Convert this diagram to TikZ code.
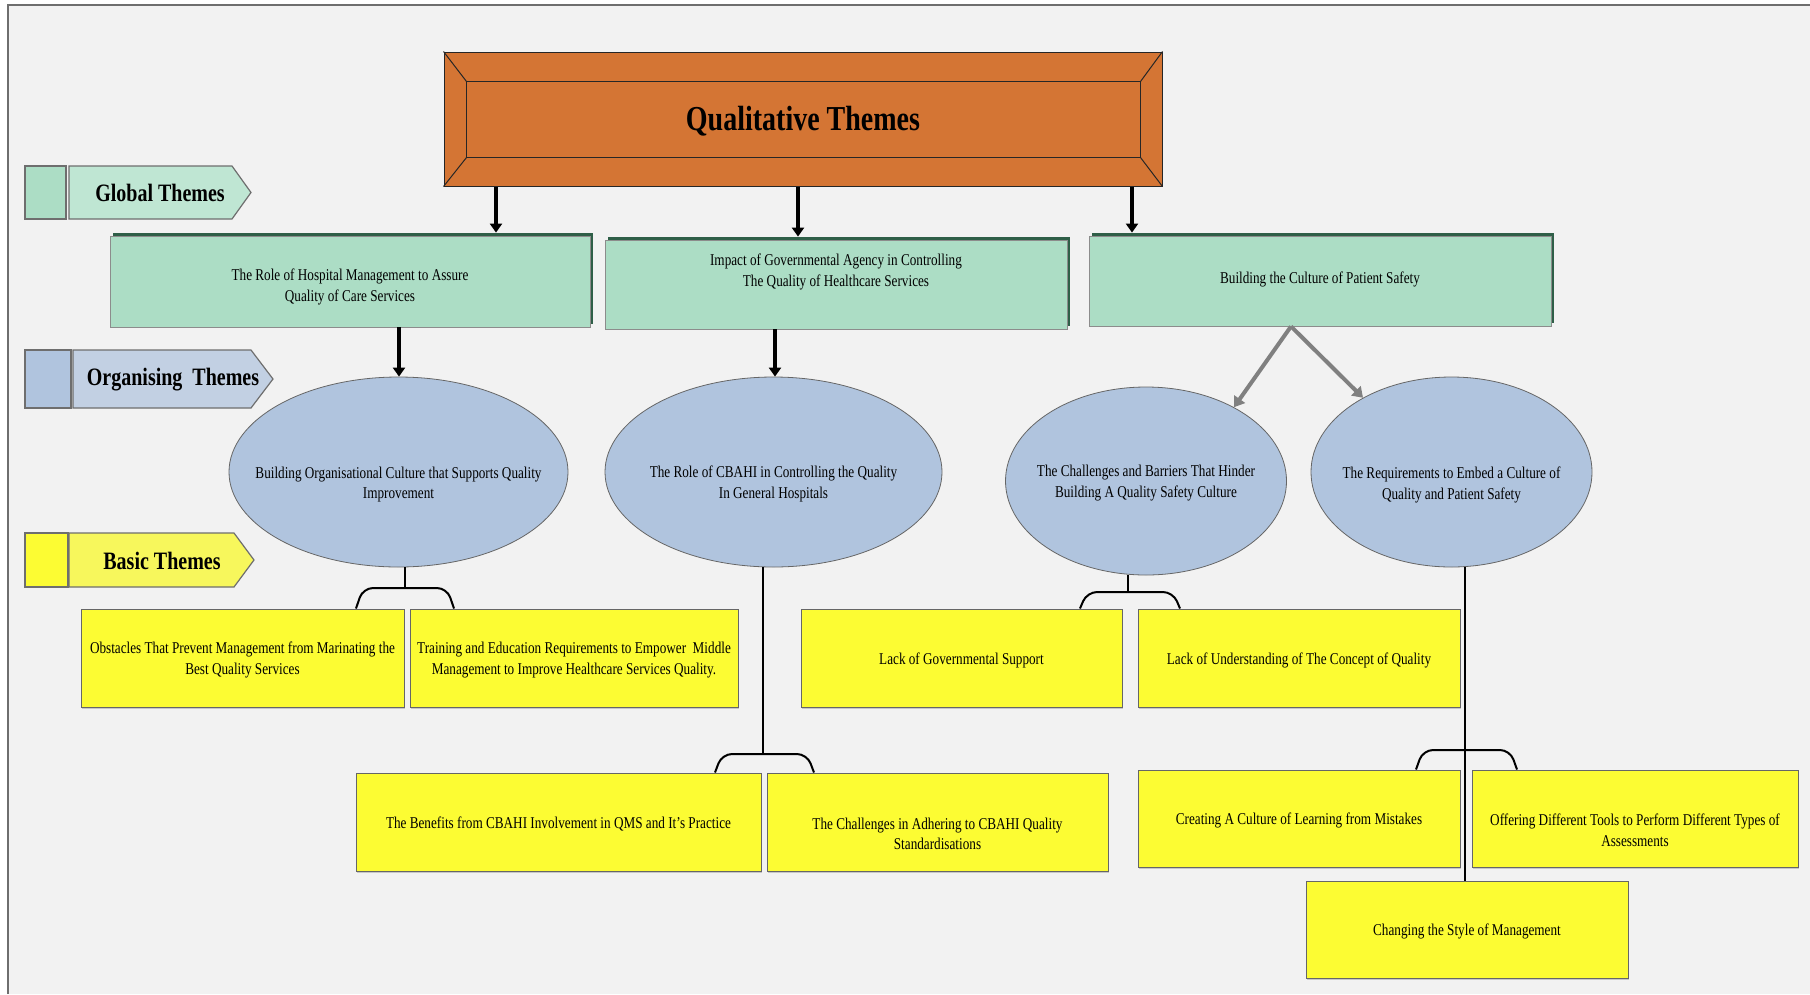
\documentclass[tikz,border=0pt]{standalone}
\usepackage{fontspec}
\setmainfont{Liberation Serif}[FakeStretch=0.8]
\usetikzlibrary{arrows.meta,shapes.geometric,shadows}

\definecolor{pagebg}{HTML}{F2F2F2}
\definecolor{frameline}{HTML}{6E6E6E}
\definecolor{rootfill}{HTML}{D47534}
\definecolor{mintfill}{HTML}{ACDDC5}
\definecolor{mintpale}{HTML}{BFE6D3}
\definecolor{mintedge}{HTML}{2F5F48}
\definecolor{steelfill}{HTML}{B0C4DE}
\definecolor{steelpale}{HTML}{C2D0E3}
\definecolor{yellowfill}{HTML}{FCFC33}
\definecolor{yellowpale}{HTML}{F7F75C}
\definecolor{linkgray}{HTML}{808080}

\tikzset{
  body/.style={font=\fontsize{16.5}{20.5}\selectfont, align=center, text=black},
  tagtext/.style={font=\bfseries\fontsize{25}{30}\selectfont, text=black},
  tagshape/.style={draw=frameline, line width=1.2pt},
  rootbox/.style={draw=black!85, fill=rootfill, line width=1pt, inner sep=0pt},
  globalbox/.style={draw=black!45, fill=mintfill, line width=0.8pt, inner sep=0pt,
    general shadow={fill=mintedge, shadow xshift=3pt, shadow yshift=3pt}, body},
  orgellipse/.style={ellipse, draw=black!60, fill=steelfill, line width=0.8pt,
    inner sep=0pt, body},
  basicbox/.style={draw=black!60, fill=yellowfill, line width=1pt, inner sep=0pt,
    general shadow={fill=black!22, shadow xshift=1pt, shadow yshift=-2pt}, body},
  boxtext/.style={body, yshift=#1},
  downarrow/.style={line width=3.5pt, -{Triangle[width=12pt,length=9pt]}},
  splitarrow/.style={draw=linkgray, line width=4pt, -{Triangle[width=13pt,length=10pt]}},
  stem/.style={line width=1.5pt},
  fork/.style={line width=2pt, rounded corners=10pt},
}

\begin{document}
\begin{tikzpicture}[x=1pt,y=-1pt]
\useasboundingbox (0,0) rectangle (1810,994);
\fill[white] (0,0) rectangle (1810,994);
\fill[pagebg] (8,5) rectangle (1810,994);
\draw[frameline, line width=1.2pt] (8,994) -- (8,5) -- (1810,5);

% ---- level legend tags ----
\filldraw[tagshape, fill=mintfill] (25,166) rectangle (66,219);
\filldraw[tagshape, fill=mintpale] (69,166) -- (232,166) -- (251,192.5) -- (232,219) -- (69,219) -- cycle;
\node[tagtext] (tagG) at (160,193) {Global Themes};

\filldraw[tagshape, fill=steelfill] (25,350) rectangle (71,408);
\filldraw[tagshape, fill=steelpale] (73,350) -- (251,350) -- (273,379) -- (251,408) -- (73,408) -- cycle;
\node[tagtext] (tagO) at (173,380) {Organising\ \ Themes};

\filldraw[tagshape, fill=yellowfill] (25,533) rectangle (68,587);
\filldraw[tagshape, fill=yellowpale] (69,533) -- (234,533) -- (254,560) -- (234,587) -- (69,587) -- cycle;
\node[tagtext] (tagB) at (162,561) {Basic Themes};

% ---- root ----
\node[rootbox, minimum width=718pt, minimum height=134pt,
  label={[font=\bfseries\fontsize{35}{40}\selectfont, yshift=-2.5pt]center:Qualitative Themes}]
  (top) at (803,119) {};
\coordinate (inNW) at ([shift={(23pt,-30pt)}]top.north west);
\coordinate (inNE) at ([shift={(-22pt,-30pt)}]top.north east);
\coordinate (inSW) at ([shift={(23pt,29pt)}]top.south west);
\coordinate (inSE) at ([shift={(-22pt,29pt)}]top.south east);
\draw[black!85, line width=1pt] (inNW) -- (inNE) -- (inSE) -- (inSW) -- cycle;
\draw[black!85, line width=1pt] (top.north west) -- (inNW) (top.north east) -- (inNE)
  (top.south west) -- (inSW) (top.south east) -- (inSE);

% ---- global themes ----
\node[globalbox, minimum width=480pt, minimum height=91pt,
  label={[boxtext=-5.5pt]center:{The Role of Hospital Management to Assure\\Quality of Care Services}}]
  (g1) at (350,281.5) {};
\node[globalbox, minimum width=462pt, minimum height=89pt,
  label={[boxtext=12.5pt]center:{Impact of Governmental Agency in Controlling\\The Quality of Healthcare Services}}]
  (g2) at (836,284.5) {};
\node[globalbox, minimum width=462pt, minimum height=90pt,
  label={[boxtext=2pt]center:{Building the Culture of Patient Safety}}]
  (g3) at (1320,281) {};

% ---- organising themes ----
\node[orgellipse, minimum width=339pt, minimum height=190pt,
  label={[boxtext=-12.5pt]center:{Building Organisational Culture that Supports Quality\\Improvement}}]
  (e1) at (398.5,472) {};
\node[orgellipse, minimum width=337pt, minimum height=190pt,
  label={[boxtext=-12pt]center:{The Role of CBAHI in Controlling the Quality\\In General Hospitals}}]
  (e2) at (773.5,472) {};
\node[orgellipse, minimum width=281pt, minimum height=188pt,
  label={[boxtext=-2pt]center:{The Challenges and Barriers That Hinder\\Building A Quality Safety Culture}}]
  (e3) at (1146,481) {};
\node[orgellipse, minimum width=281pt, minimum height=190pt,
  label={[boxtext=-13pt]center:{The Requirements to Embed a Culture of\\Quality and Patient Safety}}]
  (e4) at (1451.5,472) {};

% ---- basic themes ----
\node[basicbox, minimum width=323pt, minimum height=98pt,
  label={[boxtext=-2pt]center:{Obstacles That Prevent Management from Marinating the\\Best Quality Services}}]
  (b1) at (242.5,658) {};
\node[basicbox, minimum width=328pt, minimum height=98pt,
  label={[boxtext=-2pt]center:{Training and Education Requirements to Empower\ \ Middle\\Management to Improve Healthcare Services Quality.}}]
  (b2) at (574,658) {};
\node[basicbox, minimum width=321pt, minimum height=98pt,
  label={[boxtext=-2pt]center:{Lack of Governmental Support}}]
  (b3) at (961.5,658) {};
\node[basicbox, minimum width=322pt, minimum height=98pt,
  label={[boxtext=-2pt]center:{Lack of Understanding of The Concept of Quality}}]
  (b4) at (1299,658) {};
\node[basicbox, minimum width=405pt, minimum height=98pt,
  label={[boxtext=-2pt]center:{The Benefits from CBAHI Involvement in QMS and It's Practice}}]
  (b5) at (558.5,822) {};
\node[basicbox, minimum width=341pt, minimum height=98pt,
  label={[boxtext=-12pt]center:{The Challenges in Adhering to CBAHI Quality\\Standardisations}}]
  (b6) at (937.5,822) {};
\node[basicbox, minimum width=322pt, minimum height=97pt,
  label={[boxtext=-2pt]center:{Creating A Culture of Learning from Mistakes}}]
  (b7) at (1299,818.5) {};
\node[basicbox, minimum width=326pt, minimum height=97pt,
  label={[boxtext=-12pt]center:{Offering Different Tools to Perform Different Types of\\Assessments}}]
  (b8) at (1635,818.5) {};
\node[basicbox, minimum width=322pt, minimum height=97pt,
  label={[boxtext=-2pt]center:{Changing the Style of Management}}]
  (b9) at (1467,929.5) {};

% ---- root to global themes ----
\coordinate (a1) at (496,0);
\coordinate (a2) at (798,0);
\coordinate (a3) at (1132,0);
\draw[downarrow] (top.south -| a1) -- ([yshift=3pt]g1.north -| a1);
\draw[downarrow] (top.south -| a2) -- ([yshift=3pt]g2.north -| a2);
\draw[downarrow] (top.south -| a3) -- ([yshift=3pt]g3.north -| a3);

% ---- global to organising themes ----
\coordinate (d1) at (399,0);
\coordinate (d2) at (775,0);
\draw[downarrow] (g1.south -| d1) -- (e1.north -| d1);
\draw[downarrow] (g2.south -| d2) -- (e2.north -| d2);
\coordinate (apx) at (1291,0);
\draw[splitarrow] (g3.south -| apx) -- (e3.40);
\draw[splitarrow] (g3.south -| apx) -- (e4.140);

% ---- organising to basic themes ----
% e1 -> b1, b2
\coordinate (j1) at (405,588);
\coordinate (k1a) at (356,0);
\coordinate (k1b) at (454,0);
\draw[stem] (e1.south -| j1) -- (j1);
\draw[fork] (b1.north -| k1a) -- ([xshift=7pt]j1 -| k1a) -- ([xshift=-7pt]j1 -| k1b) -- (b2.north -| k1b);

% e2 -> b5, b6
\coordinate (j2) at (763,754);
\coordinate (k2a) at (715,0);
\coordinate (k2b) at (814,0);
\draw[stem] (e2.south -| j2) -- (j2);
\draw[fork] (b5.north -| k2a) -- ([xshift=7pt]j2 -| k2a) -- ([xshift=-7pt]j2 -| k2b) -- (b6.north -| k2b);

% e3 -> b3, b4
\coordinate (j3) at (1128,592);
\coordinate (k3a) at (1080,0);
\coordinate (k3b) at (1180,0);
\draw[stem] (e3.south -| j3) -- (j3);
\draw[fork] (b3.north -| k3a) -- ([xshift=7pt]j3 -| k3a) -- ([xshift=-7pt]j3 -| k3b) -- (b4.north -| k3b);

% e4 -> b7, b8, b9
\coordinate (j4) at (1465,750);
\coordinate (k4a) at (1416,0);
\coordinate (k4b) at (1517,0);
\draw[stem] (e4.south -| j4) -- (b9.north -| j4);
\draw[fork] (b7.north -| k4a) -- ([xshift=7pt]j4 -| k4a) -- ([xshift=-7pt]j4 -| k4b) -- (b8.north -| k4b);
\end{tikzpicture}
\end{document}
